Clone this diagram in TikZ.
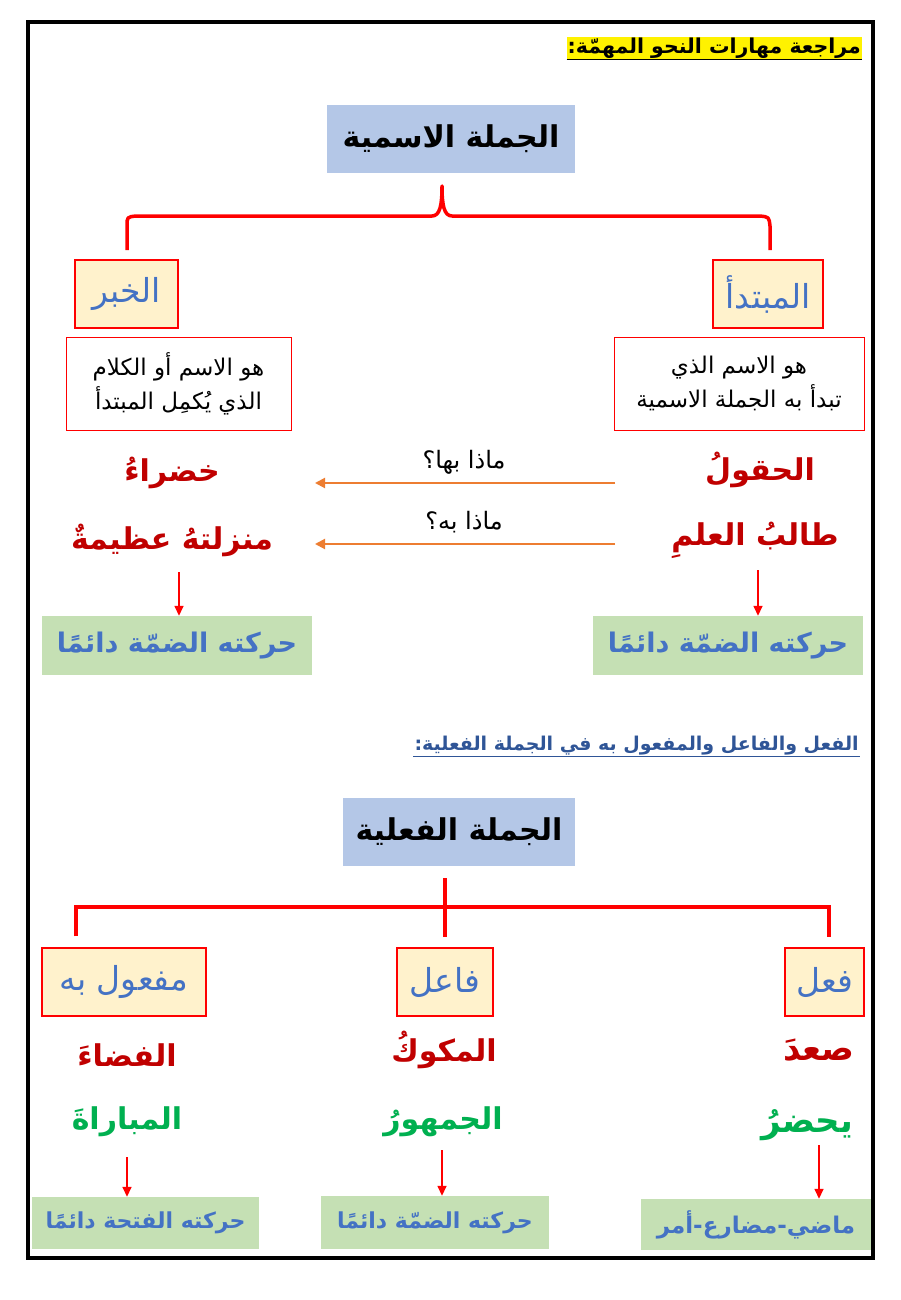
\documentclass[tikz,border=0pt]{standalone}
\usepackage{fontspec}
\TeXXeTstate=1
\newfontfamily\ar[Script=Arabic]{DejaVu Sans}
\usetikzlibrary{arrows.meta}
\definecolor{tblue}{HTML}{B4C7E7}
\definecolor{cream}{HTML}{FFF2CC}
\definecolor{catblue}{HTML}{4472C4}
\definecolor{dred}{HTML}{C00000}
\definecolor{gword}{HTML}{00B050}
\definecolor{rgreen}{HTML}{C5E0B4}
\definecolor{oarrow}{HTML}{ED7D31}
\definecolor{hblue}{HTML}{2F5597}
\begin{document}
\begin{tikzpicture}[x=1pt,y=-1pt,
  titlebox/.style={fill=tblue, minimum height=68pt, inner sep=0pt, font=\ar\bfseries\fontsize{30}{34}\selectfont},
  catbox/.style={draw=red, line width=1.2pt, fill=cream, text=catblue, minimum height=68pt, inner sep=0pt, font=\ar\fontsize{33}{36}\selectfont},
  defbox/.style={draw=red, line width=1pt, fill=white, align=center, minimum height=93pt, inner sep=0pt, font=\ar\fontsize{23}{34}\selectfont},
  redword/.style={text=dred, inner sep=0pt, font=\ar\bfseries\fontsize{30}{34}\selectfont},
  greenword/.style={text=gword, inner sep=0pt, font=\ar\bfseries\fontsize{30}{34}\selectfont},
  resbox/.style={fill=rgreen, text=catblue, inner sep=0pt, font=\ar\bfseries\fontsize{27}{30}\selectfont},
  qlabel/.style={inner sep=0pt, font=\ar\fontsize{24}{28}\selectfont},
  oarr/.style={draw=oarrow, line width=2pt, -{Triangle[length=10pt,width=10pt]}},
  rarr/.style={draw=red, line width=1.5pt, -{Triangle[length=10pt,width=9pt]}},
  treeline/.style={draw=red, line width=4pt},
]
\useasboundingbox (0,0) rectangle (900,1300);
\fill[white] (0,0) rectangle (900,1300);
\draw[line width=4pt] (28,22) rectangle (873,1258);

% header
\node[fill=yellow, inner sep=1pt, anchor=east, font=\ar\bfseries\fontsize{20.5}{24}\selectfont] (h1) at (862,48) {\beginR مراجعة مهارات النحو المهمّة:\endR};
\draw[line width=1.5pt] (h1.south west) -- (h1.south east);

% nominal sentence
\node[titlebox, minimum width=248pt] (t1) at (451,139) {\beginR الجملة الاسمية\endR};
\draw[treeline, line width=3.5pt, line join=round]
  (127,250) -- (127,226) .. controls (127,217) .. (136,216) -- (432,216)
  .. controls (440,216) and (442,205) .. (442,186)
  .. controls (442,205) and (444,216) .. (452,216) -- (760,216)
  .. controls (769,217) .. (770,226) -- (770,250);

\node[catbox, minimum width=103pt] (khabar) at (126.5,294) {\beginR الخبر\endR};
\node[catbox, minimum width=110pt] (mubt) at (768,294) {\beginR المبتدأ\endR};

\node[defbox, minimum width=225pt] (d1) at (178.5,383.5) {\beginR هو الاسم أو الكلام\endR\\\beginR الذي يُكمِل المبتدأ\endR};
\node[defbox, minimum width=250pt] (d2) at (739,383.5) {\beginR هو الاسم الذي\endR\\\beginR تبدأ به الجملة الاسمية\endR};

\node[redword] (w1) at (172,473) {\beginR خضراءُ\endR};
\node[redword] (w2) at (172,540) {\beginR منزلتهُ عظيمةٌ\endR};
\node[redword] (w3) at (760,470) {\beginR الحقولُ\endR};
\node[redword] (w4) at (755,540) {\beginR طالبُ العلمِ\endR};

\node[qlabel] (q1) at (464,462) {\beginR ماذا بها؟\endR};
\node[qlabel] (q2) at (464,522) {\beginR ماذا به؟\endR};
\coordinate (o1s) at (615,483);
\coordinate (o1e) at (315,483);
\coordinate (o2s) at (615,544);
\coordinate (o2e) at (315,544);
\draw[oarr] (o1s) -- (o1e);
\draw[oarr] (o2s) -- (o2e);

\node[resbox, minimum width=270pt, minimum height=59pt] (r1) at (177,645.5) {\beginR حركته الضمّة دائمًا\endR};
\node[resbox, minimum width=270pt, minimum height=59pt] (r2) at (728,645.5) {\beginR حركته الضمّة دائمًا\endR};
\coordinate (a1) at (179,572);
\coordinate (a2) at (758,570);
\draw[rarr] (a1) -- (a1 |- r1.north);
\draw[rarr] (a2) -- (a2 |- r2.north);

% verbal sentence
\node[text=hblue, inner sep=1pt, anchor=east, font=\ar\bfseries\fontsize{19}{22}\selectfont] (h2) at (860,746) {\beginR الفعل والفاعل والمفعول به في الجملة الفعلية:\endR};
\draw[hblue, line width=1.5pt] (h2.south west) -- (h2.south east);

\node[titlebox, minimum width=232pt] (t2) at (459,832) {\beginR الجملة الفعلية\endR};

\coordinate (tc) at (445,878);
\coordinate (tj) at (445,907);
\coordinate (tl) at (76,907);
\coordinate (tr) at (829,907);
\node[catbox, minimum width=164pt] (maf) at (124,982) {\beginR مفعول به\endR};
\node[catbox, minimum width=96pt] (fail) at (445,982) {\beginR فاعل\endR};
\node[catbox, minimum width=79pt] (fil) at (824.5,982) {\beginR فعل\endR};
\draw[treeline] (tc) -- (tj);
\draw[treeline, line join=miter] (tl |- maf.north) ++(0,-11) -- (tl) -- (tr) -- ++(0,30);
\draw[treeline] (tj) -- ++(0,30);

\node[redword] (m1) at (127,1055) {\beginR الفضاءَ\endR};
\node[greenword] (m2) at (127,1122) {\beginR المباراةَ\endR};
\node[redword] (f1) at (444,1050) {\beginR المكوكُ\endR};
\node[greenword] (f2) at (443,1122) {\beginR الجمهورُ\endR};
\node[redword, font=\ar\bfseries\fontsize{34}{38}\selectfont] (v1) at (819,1050) {\beginR صعدَ\endR};
\node[greenword, font=\ar\bfseries\fontsize{34}{38}\selectfont] (v2) at (807,1125) {\beginR يحضرُ\endR};

\node[resbox, minimum width=227pt, minimum height=52pt, font=\ar\bfseries\fontsize{22}{26}\selectfont] (r3) at (145.5,1223) {\beginR حركته الفتحة دائمًا\endR};
\node[resbox, minimum width=228pt, minimum height=53pt, font=\ar\bfseries\fontsize{22}{26}\selectfont] (r4) at (435,1222.5) {\beginR حركته الضمّة دائمًا\endR};
\node[resbox, minimum width=230pt, minimum height=51pt, font=\ar\bfseries\fontsize{23}{26}\selectfont] (r5) at (756,1224.5) {\beginR ماضي-مضارع-أمر\endR};
\coordinate (a3) at (127,1157);
\coordinate (a4) at (442,1150);
\coordinate (a5) at (819,1145);
\draw[rarr] (a3) -- (a3 |- r3.north);
\draw[rarr] (a4) -- (a4 |- r4.north);
\draw[rarr] (a5) -- (a5 |- r5.north);
\end{tikzpicture}
\end{document}
